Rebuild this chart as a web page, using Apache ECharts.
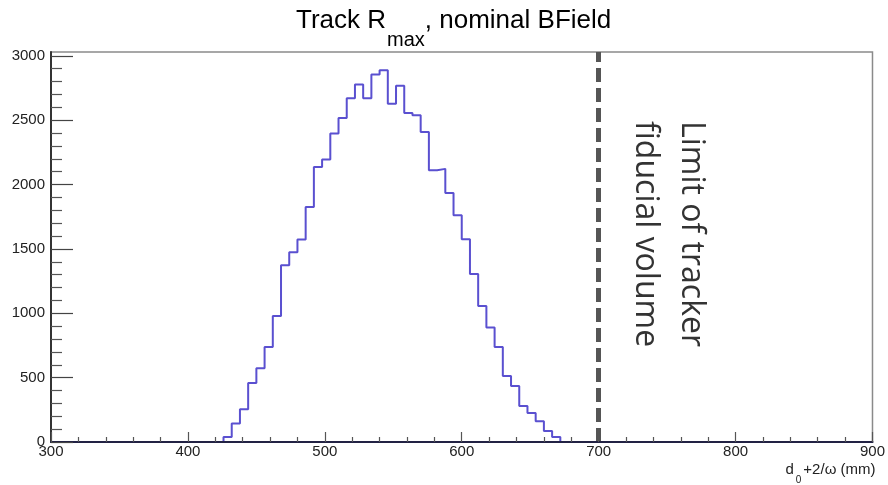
<!DOCTYPE html>
<html>
<head>
<meta charset="utf-8">
<script src="https://cdn.jsdelivr.net/npm/echarts@6/dist/echarts.min.js"></script>
<style>
html,body{margin:0;padding:0;background:#fff;}
#chart{width:888px;height:485px;}
</style>
</head>
<body>
<div id="chart"></div>
<script>
// ---- data ----
const xMin = 300, xMax = 900, binWidth = 6;
const firstBinEdge = 426;           // left edge of first non-empty bin
const counts = [39, 143, 254, 459, 573, 738, 979, 1373, 1474, 1574,
  1826, 2137, 2195, 2397, 2518, 2671, 2778, 2671, 2855, 2889,
  2627, 2767, 2557, 2539, 2409, 2112, 2122, 1935, 1762, 1575,
  1305, 1057, 889, 738, 513, 435, 280, 225, 161, 86, 39];
const limitValue = 700;
const yMax = 3030;
const yTickLabels = [0, 500, 1000, 1500, 2000, 2500, 3000];
const xTickLabels = [300, 400, 500, 600, 700, 800, 900];
const annotationLines = ['Limit of tracker', 'fiducial volume'];

// build histogram step data
const histData = [];
for (let e = xMin; e < xMax; e += binWidth) {
  const idx = Math.round((e - firstBinEdge) / binWidth);
  const v = (idx >= 0 && idx < counts.length) ? counts[idx] : 0;
  histData.push([e, v]);
}
histData.push([xMax, 0]);

const yMinorTicks = [];
for (let v = 100; v < 3000; v += 100) if (v % 500 !== 0) yMinorTicks.push(v);

const chart = echarts.init(document.getElementById('chart'), null, {renderer: 'canvas'});
const labelFont = 'Liberation Sans, Arial, sans-serif';

chart.setOption({
  animation: false,
  backgroundColor: '#fff',
  title: {
    text: '{a|Track R}{s|max}{a|, nominal BField}',
    left: 296, top: -8, padding: 0,
    textStyle: {
      fontWeight: 'normal',
      rich: {
        a: {fontFamily: labelFont, fontSize: 26, fontWeight: 'normal', color: '#000', lineHeight: 30},
        s: {fontFamily: labelFont, fontSize: 20, fontWeight: 'normal', color: '#000', padding: [38, 0, 0, 1]}
      }
    }
  },
  grid: {left: 51, right: 14, top: 52, bottom: 43, show: true, borderColor: '#8a8a8a', borderWidth: 1.5},
  xAxis: {
    type: 'value', min: xMin, max: xMax, interval: 100, z: 5,
    axisLine: {show: true, onZero: false, lineStyle: {color: '#222244', width: 2}},
    axisTick: {inside: true, length: 10, lineStyle: {color: '#555', width: 1.2}},
    minorTick: {show: true, splitNumber: 5, length: 5, lineStyle: {color: '#555', width: 1.2}},
    axisLabel: {fontFamily: labelFont, fontSize: 15, color: '#222', margin: 2,
      formatter: v => xTickLabels.includes(v) ? String(v) : ''},
    splitLine: {show: false},
    name: '{d|d}{s|0}{d|+2/ω (mm)}',
    nameLocation: 'end', nameGap: 3,
    nameTextStyle: {align: 'right', verticalAlign: 'top', padding: [13, 0, 0, 0],
      rich: {
        d: {fontFamily: labelFont, fontSize: 15, color: '#222'},
        s: {fontFamily: labelFont, fontSize: 10, color: '#222', padding: [20, 2, 0, 2]}
      }}
  },
  yAxis: [{
    type: 'value', min: 0, max: yMax, interval: 500, z: 5,
    axisLine: {show: true, lineStyle: {color: '#333', width: 2}},
    axisTick: {inside: true, length: 22, customValues: yTickLabels, lineStyle: {color: '#444', width: 1.2}},
    axisLabel: {customValues: yTickLabels, fontFamily: labelFont, fontSize: 15, color: '#222', margin: 6,
      formatter: v => String(v)},
    splitLine: {show: false}
  }, {
    type: 'value', min: 0, max: yMax, position: 'left', offset: 0, z: 5,
    axisLine: {show: false},
    axisTick: {inside: true, length: 11, customValues: yMinorTicks, lineStyle: {color: '#555', width: 1.2}},
    axisLabel: {show: false},
    splitLine: {show: false}
  }],
  series: [{
    type: 'line', step: 'end', data: histData, yAxisIndex: 0,
    symbol: 'none', z: 3,
    lineStyle: {color: '#5a50d0', width: 2},
    markLine: {
      silent: true, symbol: 'none', label: {show: false},
      lineStyle: {color: '#555', width: 5, type: [14, 6]},
      data: [{xAxis: limitValue}]
    }
  }],
  graphic: [
    {type: 'text', x: 691, y: 121, rotation: -Math.PI / 2,
      style: {text: annotationLines[0], font: '32px "Open Sans"', fill: '#333', textAlign: 'left', textVerticalAlign: 'middle'}},
    {type: 'text', x: 645, y: 121, rotation: -Math.PI / 2,
      style: {text: annotationLines[1], font: '32px "Open Sans"', fill: '#333', textAlign: 'left', textVerticalAlign: 'middle'}}
  ]
});
</script>
</body>
</html>
